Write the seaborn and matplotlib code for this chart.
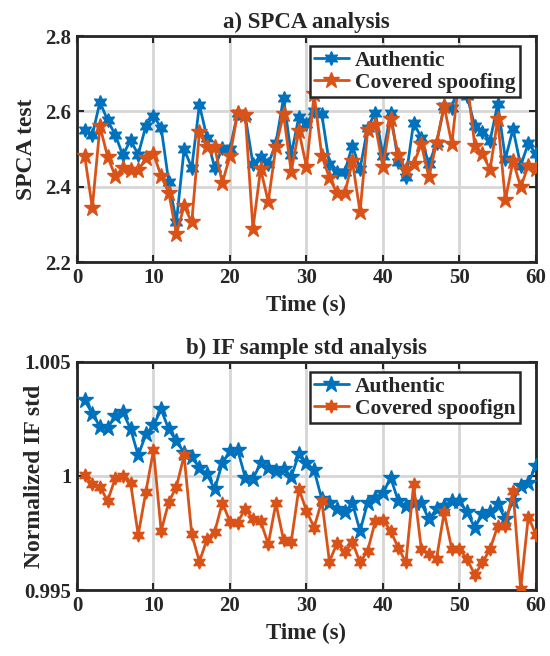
import matplotlib
matplotlib.use("Agg")
import matplotlib.pyplot as plt
import seaborn as sns

# --- data ------------------------------------------------------------------
time_s = list(range(1, 61))

spca_authentic = [
    2.550, 2.537, 2.625, 2.576, 2.538, 2.483, 2.524, 2.485, 2.561, 2.587,
    2.557, 2.412, 2.307, 2.500, 2.450, 2.617, 2.530, 2.450, 2.504, 2.500,
    2.596, 2.587, 2.460, 2.480, 2.460, 2.515, 2.636, 2.485, 2.585, 2.567,
    2.601, 2.592, 2.460, 2.438, 2.440, 2.509, 2.447, 2.557, 2.596, 2.482,
    2.596, 2.465, 2.425, 2.570, 2.530, 2.460, 2.515, 2.614, 2.610, 2.680,
    2.640, 2.561, 2.544, 2.522, 2.620, 2.474, 2.553, 2.456, 2.515, 2.487,
]
spca_spoofing = [
    2.482, 2.344, 2.560, 2.480, 2.428, 2.450, 2.443, 2.443, 2.475, 2.487,
    2.428, 2.384, 2.274, 2.349, 2.305, 2.544, 2.506, 2.505, 2.410, 2.482,
    2.596, 2.589, 2.288, 2.447, 2.360, 2.506, 2.592, 2.440, 2.548, 2.453,
    2.645, 2.482, 2.423, 2.383, 2.382, 2.467, 2.333, 2.550, 2.563, 2.452,
    2.579, 2.485, 2.443, 2.460, 2.513, 2.425, 2.517, 2.614, 2.513, 2.700,
    2.680, 2.509, 2.487, 2.445, 2.579, 2.364, 2.469, 2.399, 2.456, 2.447,
]

if_authentic = [
    1.00332, 1.00274, 1.00216, 1.00210, 1.00262, 1.00280, 1.00207, 1.00090, 1.00182, 1.00222,
    1.00292, 1.00204, 1.00153, 1.00102, 1.00085, 1.00036, 1.00007, 0.99942, 1.00058, 1.00109,
    1.00115, 0.99993, 0.99988, 1.00055, 1.00036, 1.00022, 1.00032, 0.99996, 1.00095, 1.00058,
    1.00026, 0.99898, 0.99883, 0.99854, 0.99843, 0.99880, 0.99759, 0.99883, 0.99905, 0.99924,
    0.99993, 0.99890, 0.99868, 0.99880, 0.99883, 0.99810, 0.99856, 0.99868, 0.99890, 0.99891,
    0.99840, 0.99774, 0.99832, 0.99840, 0.99876, 0.99811, 0.99891, 0.99956, 0.99971, 1.00044,
]
if_spoofing = [
    1.00003, 0.99964, 0.99953, 0.99891, 0.99990, 1.00000, 0.99971, 0.99741, 0.99930, 1.00114,
    0.99759, 0.99886, 0.99953, 1.00090, 0.99745, 0.99624, 0.99723, 0.99755, 0.99883, 0.99799,
    0.99796, 0.99857, 0.99811, 0.99803, 0.99701, 0.99880, 0.99720, 0.99711, 0.99945, 0.99847,
    0.99774, 0.99891, 0.99624, 0.99706, 0.99665, 0.99711, 0.99621, 0.99672, 0.99803, 0.99808,
    0.99759, 0.99685, 0.99621, 0.99963, 0.99682, 0.99657, 0.99638, 0.99840, 0.99679, 0.99679,
    0.99636, 0.99566, 0.99621, 0.99679, 0.99781, 0.99781, 0.99934, 0.99504, 0.99822, 0.99741,
]

x_ticks = [0, 10, 20, 30, 40, 50, 60]
spca_ticks = [2.2, 2.4, 2.6, 2.8]
if_ticks = [0.995, 1.0, 1.005]
if_tick_labels = ["0.995", "1", "1.005"]

BLUE = "#0072BD"
ORANGE = "#D95319"
HEX_STAR = (6, 1, 0)
PENT_STAR = "*"

sns.set_style("ticks")
plt.rcParams["font.family"] = ["Liberation Serif", "DejaVu Serif"]
plt.rcParams["font.weight"] = "bold"
plt.rcParams["axes.labelweight"] = "bold"
plt.rcParams["axes.titleweight"] = "bold"

fig = plt.figure(figsize=(5.5, 6.56), dpi=100)
ax1 = fig.add_axes([0.14, 0.6006, 0.8345, 0.3445])
ax2 = fig.add_axes([0.14, 0.1006, 0.8345, 0.3476])


def draw_series(ax, y, color, marker, ms, label):
    sns.lineplot(x=time_s, y=y, ax=ax, color=color, marker=marker,
                 markersize=ms, linewidth=2.0, markeredgecolor=color,
                 markeredgewidth=1.0, label=label, zorder=3)


def style_axes(ax, title, ylabel, yticks, ylim, ylabel_x):
    ax.set_xlim(0, 60)
    ax.set_ylim(*ylim)
    ax.set_xticks(x_ticks)
    ax.set_yticks(yticks)
    ax.set_title(title, fontsize=16.5, fontweight="bold", pad=6)
    ax.set_xlabel("Time (s)", fontsize=16.5, fontweight="bold", labelpad=5)
    ax.set_ylabel(ylabel, fontsize=17, fontweight="bold")
    ax.yaxis.set_label_coords(ylabel_x, 0.5)
    ax.grid(True, color="#d6d6d6", linewidth=2.0, zorder=0)
    ax.set_axisbelow(True)
    ax.tick_params(direction="in", length=5, width=1.5, top=True, right=True,
                   labelsize=15, pad=4, colors="#262626")
    for sp in ax.spines.values():
        sp.set_visible(True)
        sp.set_linewidth(2.0)
        sp.set_color("#262626")
    leg = ax.legend(loc="upper right", bbox_to_anchor=(0.965, 0.955),
                    fontsize=15.5, frameon=True, fancybox=False, framealpha=1,
                    edgecolor="#262626", handlelength=1.6, borderpad=0.2,
                    labelspacing=0.1, handletextpad=0.3, borderaxespad=0)
    leg.get_frame().set_linewidth(1.8)
    for t in leg.get_texts():
        t.set_fontweight("bold")


draw_series(ax1, spca_authentic, BLUE, HEX_STAR, 10, "Authentic")
draw_series(ax1, spca_spoofing, ORANGE, PENT_STAR, 12, "Covered spoofing")
style_axes(ax1, "a) SPCA analysis", "SPCA test", spca_ticks, (2.2, 2.8), -0.088)
ax1.set_yticklabels([f"{v:.1f}" for v in spca_ticks])

draw_series(ax2, if_authentic, BLUE, PENT_STAR, 12, "Authentic")
draw_series(ax2, if_spoofing, ORANGE, HEX_STAR, 9.5, "Covered spoofign")
style_axes(ax2, "b) IF sample std analysis", "Normalized IF std", if_ticks, (0.995, 1.005), -0.07)
ax2.set_yticklabels(if_tick_labels)

fig.savefig("out.png", dpi=100)
